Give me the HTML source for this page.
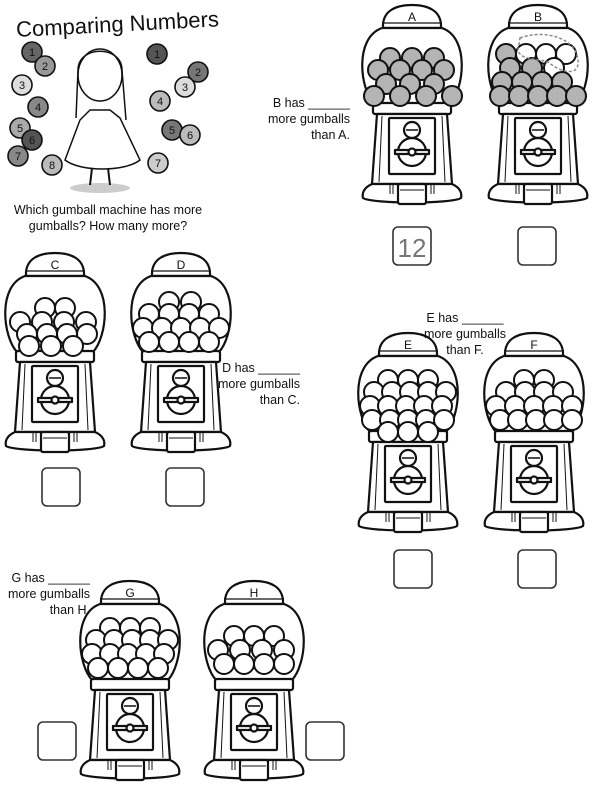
<!DOCTYPE html>
<html><head><meta charset="utf-8"><style>
html,body{margin:0;padding:0;background:#fff;}
body{width:600px;height:793px;overflow:hidden;font-family:"Liberation Sans",sans-serif;}
</style></head><body>
<svg id="s" width="600" height="793" viewBox="0 0 600 793" xmlns="http://www.w3.org/2000/svg" font-family="Liberation Sans, sans-serif">
<defs>
<g id="m" fill="#fff" stroke="#111" stroke-width="2.2" stroke-linejoin="round">
  <path d="M21,24 C20,6 35,1 50,1 C65,1 80,6 79,24 Z"/>
  <path d="M20,19 L80,19" fill="none" stroke-width="1.2"/>
  <path d="M20,24 C-8,34 -2,85 12,100 L88,100 C102,85 108,34 80,24 Z"/>
  <rect x="11" y="99" width="78" height="11" rx="2"/>
  <path d="M15,110 L85,110 L90,180 L10,180 Z"/>
  <path d="M20,112 L17,178 M80,112 L83,178" fill="none" stroke-width="1"/>
  <rect x="27" y="114" width="46" height="56" rx="1"/>
  <circle cx="50" cy="126" r="8"/>
  <path d="M44,126 L56,126" stroke-width="1.5"/>
  <circle cx="50" cy="148" r="14"/>
  <rect x="33" y="146" width="34" height="4" fill="#fff"/>
  <circle cx="50" cy="148" r="3.5"/>
  <path d="M10,180 L90,180 C99,184 100,190 99,194 C90,200 10,200 1,194 C0,190 1,184 10,180 Z"/>
  <rect x="36" y="180" width="28" height="20" rx="2"/>
  <path d="M38,186 L62,186" stroke-width="1"/>
  <path d="M28,181 L28,190 M31,181 L31,190 M69,181 L69,190 M72,181 L72,190" stroke-width="1"/>
</g>
</defs>
<g id="layer"></g>
</svg>
<script>
var L=document.getElementById('layer'),NS='http://www.w3.org/2000/svg';
function el(t,a,txt){var e=document.createElementNS(NS,t);for(var k in a)e.setAttribute(k,a[k]);if(txt!=null)e.textContent=txt;L.appendChild(e);return e;}
function mach(x,y,lab,rows,fillFn){
  el('use',{href:'#m',x:x,y:y});
  el('text',{x:x+50,y:y+17,'text-anchor':'middle','font-size':'12',fill:'#111'},lab);
  var r=10;
  rows.forEach(function(row,i){
    var cy=y+row[0];
    for(var j=0;j<row[2];j++){
      var cx=x+row[1]+j*row[3];
      var f=fillFn?fillFn(i,j):'#fff';
      el('circle',{cx:cx,cy:cy,r:r,fill:f,stroke:'#111','stroke-width':'2'});
    }
  });
}
function box(x,y,t){el('rect',{x:x,y:y,width:38,height:38,rx:5,fill:'#fff',stroke:'#333','stroke-width':'1.6'});
 if(t)el('text',{x:x+19,y:y+30,'text-anchor':'middle','font-size':'26',fill:'#777'},t);}
var g=function(){return '#b4b4b4';};
mach(362,4,'A',[[54,28,3,22],[66,16,4,22],[80,24,3,24],[92,12,4,26]],g);
mach(488,4,'B',[[50,18,4,20],[64,22,3,22],[78,14,4,20],[92,12,5,19]],function(i,j){return (i==0&&j>0)||(i==1&&j==2)?'#fff':'#b4b4b4';});
el('path',{d:'M520,38 C540,30 575,35 578,60 C580,78 560,72 548,62 C535,58 520,60 518,50 Z',fill:'none',stroke:'#888','stroke-width':'1.5','stroke-dasharray':'3,2'});
box(393,227,'12');box(518,227);
mach(5,252,'C',[[56,40,2,20],[70,15,4,22],[82,22,4,20],[94,24,3,22]]);
mach(131,252,'D',[[50,38,2,22],[62,18,4,20],[76,12,5,19],[90,18,4,20]]);
box(42,468);box(166,468);
mach(358,332,'E',[[48,30,3,20],[60,16,5,18],[74,12,5,18],[88,14,5,18],[100,30,3,20]]);
mach(484,332,'F',[[48,40,2,20],[60,22,4,19],[74,12,5,19],[88,16,5,18]]);
box(394,550);box(518,550);
mach(80,580,'G',[[48,30,3,20],[60,16,5,18],[74,12,5,18],[88,18,4,20]]);
mach(204,580,'H',[[56,30,3,20],[70,14,4,22],[84,20,4,20]]);
box(38,722);box(306,722);
function lbl(x,y,lines,anchor){lines.forEach(function(s,i){el('text',{x:x,y:y+i*16,'text-anchor':anchor,'font-size':'12.5',fill:'#111'},s);});}
lbl(350,107,['B has ______','more gumballs','than A.'],'end');
lbl(300,372,['D has ______','more gumballs','than C.'],'end');
lbl(465,322,['E has ______','more gumballs','than F.'],'middle');
lbl(90,582,['G has ______','more gumballs','than H.'],'end');
el('text',{x:16,y:32,'font-size':'22',fill:'#111',transform:'rotate(-3 110 25)'},'Comparing Numbers');
el('text',{x:108,y:214,'text-anchor':'middle','font-size':'12.5',fill:'#111'},'Which gumball machine has more');
el('text',{x:108,y:230,'text-anchor':'middle','font-size':'12.5',fill:'#111'},'gumballs? How many more?');
var balls=[[32,52,'1','#666'],[45,66,'2','#999'],[22,85,'3','#ddd'],[38,107,'4','#888'],[20,128,'5','#aaa'],[32,140,'6','#555'],[18,156,'7','#888'],[52,165,'8','#bbb'],[157,54,'1','#555'],[198,72,'2','#777'],[185,87,'3','#ddd'],[160,101,'4','#bbb'],[172,130,'5','#777'],[190,135,'6','#bbb'],[158,163,'7','#ccc']];
balls.forEach(function(b){el('circle',{cx:b[0],cy:b[1],r:10,fill:b[3],stroke:'#111','stroke-width':'1.6'});el('text',{x:b[0],y:b[1]+4,'text-anchor':'middle','font-size':'11',fill:'#111'},b[2]);});
el('ellipse',{cx:100,cy:188,rx:30,ry:5,fill:'#ccc'});
el('path',{d:'M90,110 L80,120 L65,160 C80,172 125,172 140,160 L120,118 L110,110 Z',fill:'#fff',stroke:'#111','stroke-width':'1.5'});
el('ellipse',{cx:100,cy:75,rx:22,ry:26,fill:'#fff',stroke:'#111','stroke-width':'1.5'});
el('path',{d:'M78,70 C78,45 122,45 122,70 L126,120 M78,70 L76,118',fill:'none',stroke:'#111','stroke-width':'1.5'});
el('path',{d:'M92,168 L90,185 M108,168 L110,185',stroke:'#111','stroke-width':'2'});
</script>
</body></html>
